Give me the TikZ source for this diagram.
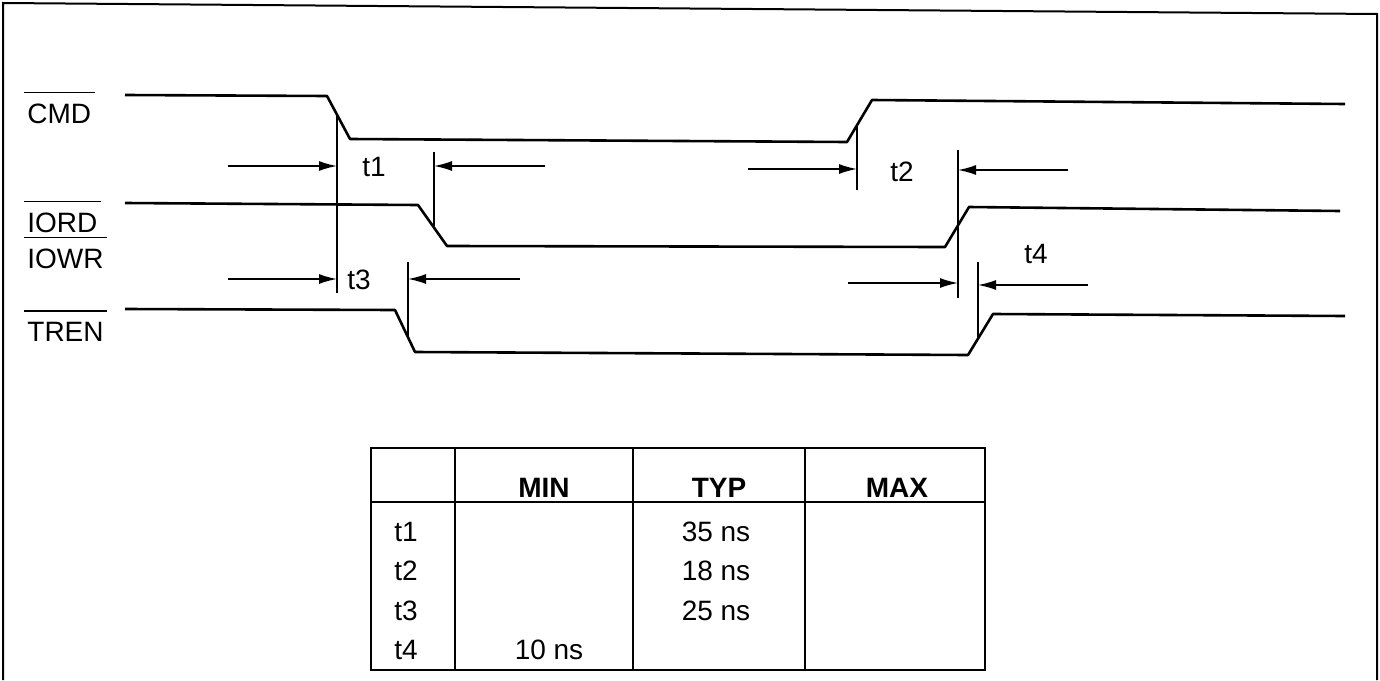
\documentclass[tikz,border=0pt]{standalone}
\usepackage{fontspec}
\setmainfont{Liberation Sans}
\usetikzlibrary{arrows.meta}
\tikzset{sig/.style={line width=1.3pt,line join=round},
  edgeline/.style={line width=0.8pt},
  dim/.style={line width=0.8pt,-{Latex[length=9pt,width=5pt]}},
  lbl/.style={anchor=west,inner sep=1.5pt,font=\fontsize{14}{16}\selectfont},
  cell/.style={inner sep=1pt,font=\fontsize{14}{16}\selectfont},
  hd/.style={cell,font=\bfseries\fontsize{14}{16}\selectfont}}

\begin{document}
\begin{tikzpicture}[x=0.5pt,y=-0.5pt]
\useasboundingbox (0,0) rectangle (1380,680);
\draw[line width=1pt] (3,680) -- (3,3) -- (1377,14) -- (1377,680);

% signal names with bars
\node[lbl] (cmd) at (24,114) {CMD};
\node[lbl] (iord) at (24,223) {IORD};
\node[lbl] (iowr) at (24,259) {IOWR};
\node[lbl] (tren) at (24,332) {TREN};
\foreach \s in {cmd,iord,iowr,tren}
  \draw[edgeline] ([yshift=4pt]\s.north west) -- ([yshift=4pt]\s.north east);

% waveforms
\draw[sig] (125,95) -- (327,96) -- (350,139) -- (847,142) -- (872,100) -- (1345,104);
\draw[sig] (125,203) -- (418,205) -- (447,246) -- (945,247) -- (969,207) -- (1340,211);
\draw[sig] (125,309) -- (395,310) -- (415,352) -- (968,355) -- (993,314) -- (1345,316);

% timing marks
\foreach \x/\ya/\yb in {337/116/293, 434/152/226, 408/262/337,
    857/125/190, 958/150/298, 978/262/338}
  \draw[edgeline] (\x,\ya) -- (\x,\yb);
\foreach \xa/\xb/\y in {228/337/166, 545/434/166, 228/337/279, 520/408/279,
    748/857/169, 1068/958/170, 848/958/283, 1088/978/285}
  \draw[dim] (\xa,\y) -- (\xb,\y);
\node[cell] (t1) at (374,167) {t1};
\node[cell] (t3) at (359,280) {t3};
\node[cell] (t2) at (902,172) {t2};
\node[cell] (t4) at (1036,254) {t4};

% table
\draw[line width=1pt] (371,448) rectangle (985,670);
\draw[line width=1pt] (371,502) -- (985,502);
\foreach \x in {455,633,805}
  \draw[line width=1pt] (\x,448) -- (\x,670);
\node[hd] (min) at (544,488) {MIN};
\node[hd] (typ) at (719,488) {TYP};
\node[hd] (max) at (897,488) {MAX};
\foreach \n/\y in {1/532,2/571,3/611,4/650}
  \node[cell,anchor=west] (r\n) at (392,\y) {t\n};
\node[cell] (v1) at (716,532) {35 ns};
\node[cell] (v2) at (716,571) {18 ns};
\node[cell] (v3) at (716,611) {25 ns};
\node[cell] (v4) at (549,650) {10 ns};
\end{tikzpicture}
\end{document}
